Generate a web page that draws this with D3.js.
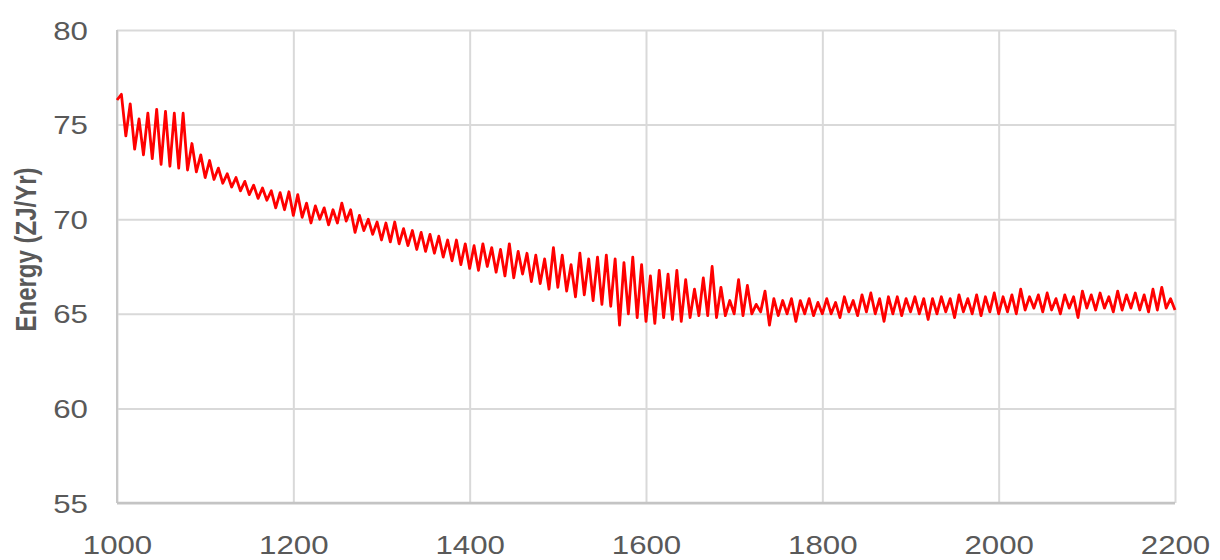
<!DOCTYPE html>
<html>
<head>
<meta charset="utf-8">
<script src="https://cdn.jsdelivr.net/npm/d3@7"></script>
<style>
  html, body { margin: 0; background: #ffffff; }
  svg { display: block; }
</style>
</head>
<body>
<svg id="chart" width="1220" height="560"></svg>
<script>
// Annual energy series, sampled every 5 years from 1000 to 2200
const years = d3.range(1000, 2201, 5);
const energy = [
  76.3, 76.6, 74.4, 76.1, 73.7, 75.3, 73.4, 75.6, 73.2, 75.8, 72.9, 75.7, 72.8, 75.6, 72.7, 75.6, 72.6, 74.0, 72.5, 73.4,
  72.2, 73.1, 72.1, 72.7, 71.9, 72.4, 71.7, 72.2, 71.5, 72.0, 71.3, 71.8, 71.1, 71.65, 71.0, 71.5, 70.6, 71.4, 70.5, 71.45,
  70.2, 71.3, 70.1, 70.85, 69.8, 70.7, 70.0, 70.6, 69.7, 70.5, 69.8, 70.85, 69.9, 70.5, 69.3, 70.2, 69.4, 70.0, 69.2, 69.85,
  68.9, 69.8, 68.8, 69.85, 68.7, 69.5, 68.6, 69.4, 68.4, 69.3, 68.3, 69.2, 68.2, 69.1, 68.0, 68.9, 67.8, 68.9, 67.6, 68.7,
  67.4, 68.6, 67.3, 68.7, 67.5, 68.5, 67.2, 68.4, 67.0, 68.7, 66.9, 68.3, 67.1, 68.2, 66.7, 68.1, 66.6, 67.9, 66.3, 68.5,
  66.4, 68.1, 66.2, 67.6, 65.9, 68.2, 66.0, 67.9, 65.7, 68.0, 65.5, 68.1, 65.4, 67.9, 64.4, 67.7, 65.0, 68.0, 64.8, 67.6,
  64.6, 67.0, 64.5, 67.3, 64.8, 67.1, 64.7, 67.3, 64.6, 66.8, 64.8, 66.3, 64.9, 66.9, 64.9, 67.5, 64.8, 66.4, 64.9, 65.7,
  65.0, 66.8, 64.9, 66.5, 65.0, 65.5, 65.1, 66.2, 64.4, 65.8, 64.9, 65.7, 65.0, 65.8, 64.6, 65.7, 65.0, 65.8, 64.9, 65.6,
  65.0, 65.8, 65.0, 65.6, 64.8, 65.9, 65.1, 65.7, 64.9, 66.0, 65.1, 66.1, 65.0, 65.8, 64.6, 65.9, 65.0, 65.9, 64.9, 65.8,
  65.1, 65.9, 65.0, 65.8, 64.7, 65.8, 65.0, 65.9, 65.1, 65.8, 64.8, 66.0, 65.1, 65.8, 65.0, 66.0, 64.9, 65.9, 65.1, 66.1,
  65.0, 65.9, 65.1, 66.0, 65.0, 66.3, 65.2, 65.9, 65.3, 66.0, 65.1, 66.1, 65.2, 65.8, 65.0, 66.0, 65.3, 65.9, 64.8, 66.2,
  65.3, 66.0, 65.2, 66.1, 65.3, 65.9, 65.1, 66.2, 65.2, 66.0, 65.3, 66.1, 65.2, 66.0, 65.1, 66.3, 65.2, 66.4, 65.3, 65.8,
  65.2
];
const xTicks = [1000, 1200, 1400, 1600, 1800, 2000, 2200];
const yTicks = [55, 60, 65, 70, 75, 80];
const yTitle = "Energy (ZJ/Yr)";

const W = 1220, H = 560;
const margin = { left: 117, right: 45, top: 30, bottom: 57 };
const innerW = W - margin.left - margin.right;
const innerH = H - margin.top - margin.bottom;
const textColor = "#595959";
const gridColor = "#d9d9d9";
const stretch = 1.25;   // wide lettering of the labels

const svg = d3.select("#chart");
const g = svg.append("g").attr("transform", `translate(${margin.left},${margin.top})`);

const x = d3.scaleLinear().domain([1000, 2200]).range([0, innerW]);
const y = d3.scaleLinear().domain([55, 80]).range([innerH, 0]);

// Horizontal gridlines with value labels
const yAxis = g.append("g")
  .call(d3.axisLeft(y).tickValues(yTicks).tickSize(-innerW).tickPadding(0));
yAxis.select(".domain").remove();
yAxis.selectAll(".tick line").attr("stroke", gridColor).attr("stroke-width", 2);
yAxis.selectAll(".tick text")
  .attr("x", 0).attr("dy", "0.36em")
  .attr("transform", `translate(-29,0) scale(${stretch},1)`)
  .attr("fill", textColor)
  .style("font-family", "'Liberation Sans', Arial, sans-serif")
  .style("font-size", "25px");

// Vertical gridlines with year labels
const xAxis = g.append("g")
  .attr("transform", `translate(0,${innerH})`)
  .call(d3.axisBottom(x).tickValues(xTicks).tickFormat(d3.format("d")).tickSize(-innerH).tickPadding(0));
xAxis.select(".domain").remove();
xAxis.selectAll(".tick line").attr("stroke", gridColor).attr("stroke-width", 2);
xAxis.selectAll(".tick text")
  .attr("y", 0).attr("dy", null)
  .attr("transform", `translate(0,51) scale(${stretch},1)`)
  .attr("fill", textColor)
  .style("font-family", "'Liberation Sans', Arial, sans-serif")
  .style("font-size", "25px");

// Axis frame lines (left and bottom)
g.append("line").attr("x1", 0).attr("x2", 0).attr("y1", 0).attr("y2", innerH)
  .attr("stroke", "#c8c8c8").attr("stroke-width", 2);
g.append("line").attr("x1", 0).attr("x2", innerW).attr("y1", innerH).attr("y2", innerH)
  .attr("stroke", "#c4c4c4").attr("stroke-width", 2.5);

// Energy line
const points = years.map((yr, i) => [yr, energy[i]]);
const line = d3.line().x(d => x(d[0])).y(d => y(d[1]));
g.append("path")
  .datum(points)
  .attr("d", line)
  .attr("fill", "none")
  .attr("stroke", "#ff0000")
  .attr("stroke-width", 2.8)
  .attr("stroke-linejoin", "round");

// Y axis title
svg.append("text")
  .attr("transform", `translate(25,${margin.top + innerH / 2 - 17}) scale(${stretch},1) rotate(-90)`)
  .attr("text-anchor", "middle")
  .attr("dy", "0.36em")
  .attr("fill", textColor)
  .style("font-family", "'Liberation Sans', Arial, sans-serif")
  .style("font-weight", "bold")
  .style("font-size", "24px")
  .text(yTitle);
</script>
</body>
</html>
